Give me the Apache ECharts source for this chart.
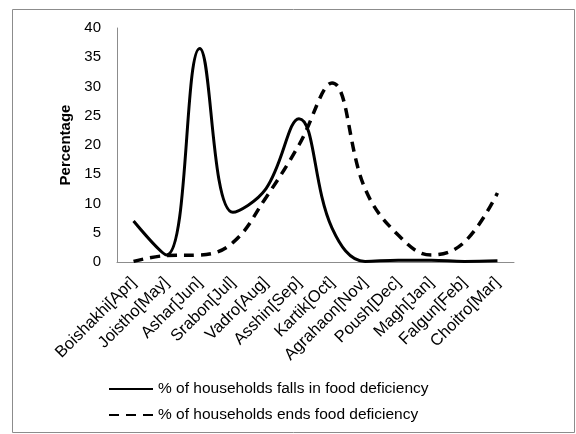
<!DOCTYPE html>
<html>
<head>
<meta charset="utf-8">
<script src="https://cdn.jsdelivr.net/npm/echarts@6/dist/echarts.min.js"></script>
<style>
html,body{margin:0;padding:0;background:#fff;}
#chart{width:576px;height:434px;}
</style>
</head>
<body>
<div id="chart"></div>
<script>
var categories = ['Boishakhi[Apr]','Joistho[May]','Ashar[Jun]','Srabon[Jul]','Vadro[Aug]','Asshin[Sep]','Kartik[Oct]','Agrahaon[Nov]','Poush[Dec]','Magh[Jan]','Falgun[Feb]','Choitro[Mar]'];
var fallsIn = [7.0, 1.2, 36.5, 8.5, 12.5, 24.5, 5.8, 0.1, 0.3, 0.3, 0.1, 0.2];
var endsDef = [0.1, 1.1, 1.2, 3.3, 11.0, 20.0, 30.6, 12.5, 4.6, 1.2, 3.4, 11.8];
var yTicks = {min: 0, max: 40, interval: 5};
var seriesNames = ['% of households falls in food deficiency', '% of households ends food deficiency'];

var chart = echarts.init(document.getElementById('chart'), null, {renderer: 'canvas'});
var font = 'Liberation Sans, Arial, sans-serif';
chart.setOption({
  animation: false,
  backgroundColor: '#fff',
  textStyle: {fontFamily: font},
  graphic: [{
    type: 'rect', shape: {x: 12.5, y: 9.5, width: 562, height: 423},
    style: {fill: 'none', stroke: '#8c8c8c', lineWidth: 1}, silent: true, z: -1
  }],
  grid: {left: 117, top: 28, right: 62, bottom: 172, containLabel: false},
  legend: {
    orient: 'vertical', left: 103, top: 376, itemWidth: 44, itemHeight: 14, itemGap: 10,
    itemStyle: {opacity: 0},
    textStyle: {fontSize: 15.5, color: '#000', fontFamily: font},
    data: seriesNames
  },
  xAxis: {
    type: 'category', data: categories, boundaryGap: true,
    axisLine: {lineStyle: {color: '#8c8c8c', width: 1}},
    axisTick: {show: false},
    axisLabel: {rotate: 45, fontSize: 16.5, color: '#000', margin: 18, interval: 0, fontFamily: font}
  },
  yAxis: {
    type: 'value', min: yTicks.min, max: yTicks.max, interval: yTicks.interval,
    name: 'Percentage', nameLocation: 'middle', nameGap: 44,
    nameTextStyle: {fontSize: 15, fontWeight: 'bold', color: '#000', fontFamily: font},
    axisLine: {show: true, lineStyle: {color: '#8c8c8c', width: 1}},
    axisTick: {show: false},
    splitLine: {show: false},
    axisLabel: {fontSize: 15, color: '#000', margin: 16, fontFamily: font}
  },
  series: [{
    name: seriesNames[0], type: 'line', data: fallsIn, smooth: 0.4, symbol: 'none',
    lineStyle: {color: '#000', width: 3, type: 'solid'}, itemStyle: {color: '#000'}
  }, {
    name: seriesNames[1], type: 'line', data: endsDef, smooth: 0.4, symbol: 'none',
    lineStyle: {color: '#000', width: 3.5, type: [10, 7]}, itemStyle: {color: '#000'}
  }]
});
</script>
</body>
</html>
